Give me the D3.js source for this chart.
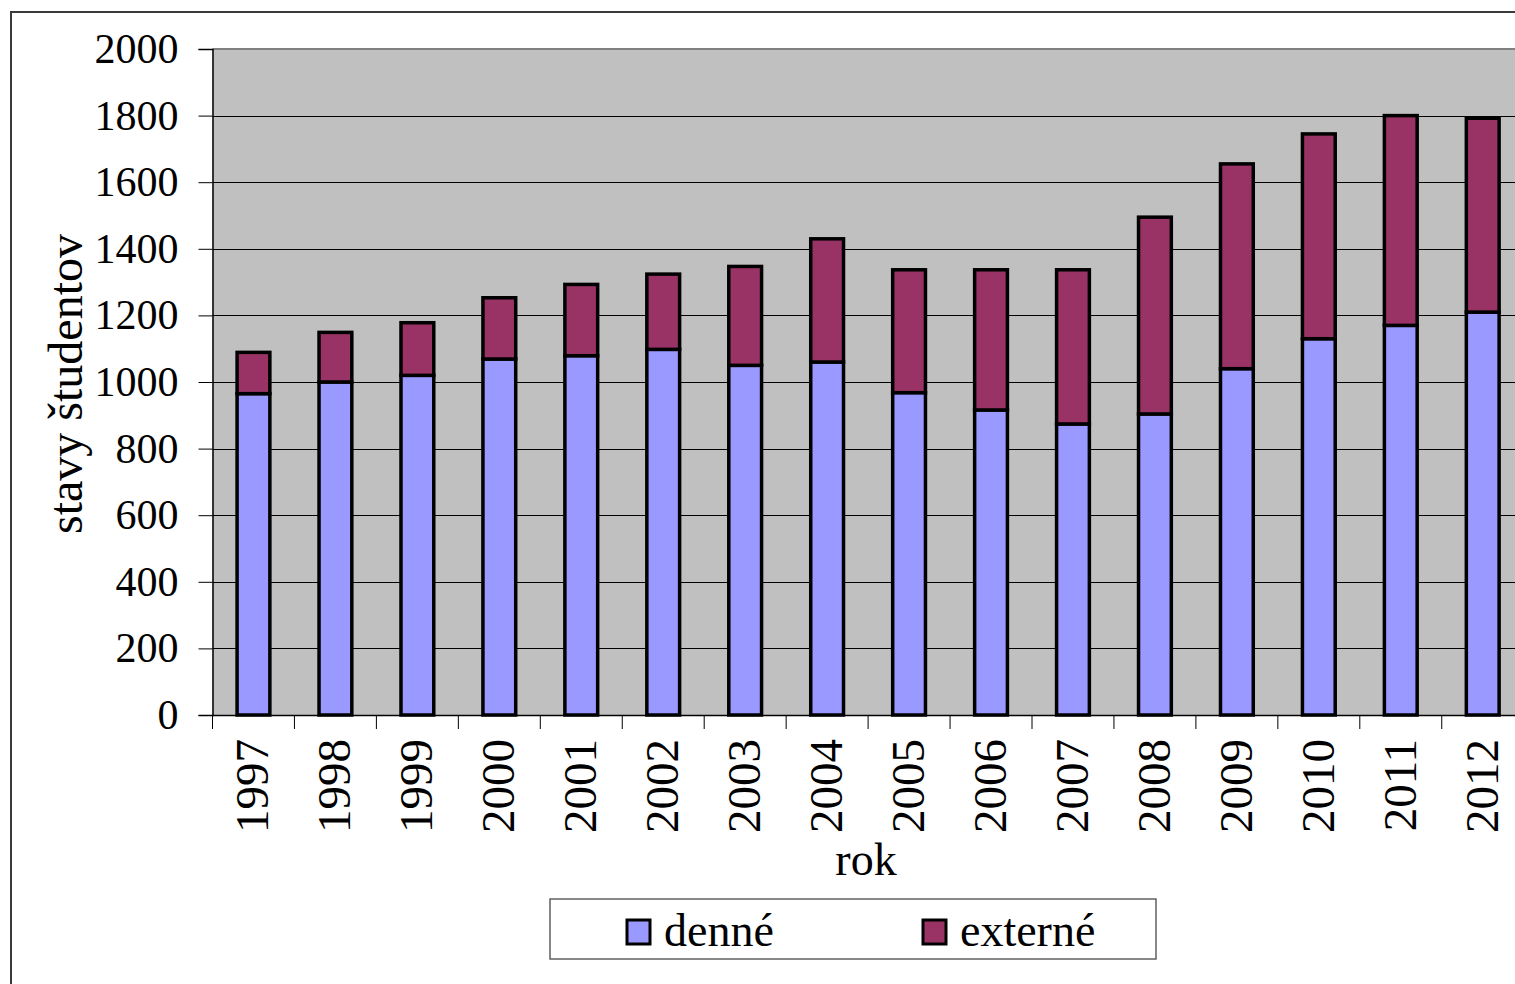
<!DOCTYPE html>
<html>
<head>
<meta charset="utf-8">
<script src="https://cdn.jsdelivr.net/npm/d3@7"></script>
<style>
  html, body { margin: 0; padding: 0; background: #fff; overflow: hidden; }
  svg { display: block; }
  text { font-family: "Liberation Serif", "Times New Roman", serif; fill: #000; }
</style>
</head>
<body>
<script>
const years = ["1997","1998","1999","2000","2001","2002","2003","2004","2005","2006","2007","2008","2009","2010","2011","2012"];
const denne = [965, 1000, 1020, 1069, 1079, 1098, 1050, 1060, 968, 916, 874, 904, 1040, 1130, 1170, 1210];
const externe = [124, 149, 158, 184, 214, 226, 297, 370, 369, 421, 463, 591, 615, 615, 630, 582];
const yTicks = [0, 200, 400, 600, 800, 1000, 1200, 1400, 1600, 1800, 2000];
const seriesNames = ["denné", "externé"];
const seriesColors = ["#9999FF", "#993366"];

(function () {
const W = 1515, H = 984;
const svg = d3.select("body").append("svg").attr("width", W).attr("height", H);

// outer chart border
svg.append("rect").attr("x", 11).attr("y", 12).attr("width", 1600).attr("height", 1100)
  .attr("fill", "#fff").attr("stroke", "#3a3a3a").attr("stroke-width", 2);

const pLeft = 212.5, pTop = 49, pBottom = 715;
const step = 81.95;
const pRight = pLeft + step * years.length;

const x = d3.scaleBand().domain(years).range([pLeft, pRight]).paddingInner(0.6).paddingOuter(0.3);
const y = d3.scaleLinear().domain([0, 2000]).range([pBottom, pTop]);

// plot background
svg.append("rect").attr("x", pLeft).attr("y", pTop).attr("width", pRight - pLeft).attr("height", pBottom - pTop)
  .attr("fill", "#C0C0C0");
// top border of plot (gray)
svg.append("line").attr("x1", pLeft).attr("x2", pRight).attr("y1", pTop).attr("y2", pTop)
  .attr("stroke", "#808080").attr("stroke-width", 2);

// gridlines
svg.append("g").selectAll("line").data(yTicks.filter(d => d > 0 && d < 2000)).join("line")
  .attr("x1", pLeft).attr("x2", pRight)
  .attr("y1", d => Math.round(y(d)) + 0.5).attr("y2", d => Math.round(y(d)) + 0.5)
  .attr("stroke", "#000").attr("stroke-width", 1);

// stacked data
const rows = years.map((yr, i) => ({ year: yr, "denné": denne[i], "externé": externe[i] }));
const stack = d3.stack().keys(seriesNames)(rows);

svg.append("g").selectAll("g").data(stack).join("g")
  .attr("fill", (d, i) => seriesColors[i])
  .selectAll("rect").data(d => d).join("rect")
  .attr("x", d => x(d.data.year))
  .attr("width", x.bandwidth())
  .attr("y", d => y(d[1]))
  .attr("height", d => y(d[0]) - y(d[1]))
  .attr("stroke", "#000").attr("stroke-width", 3.5);

// y axis
const yAxis = d3.axisLeft(y).tickValues(yTicks).tickSize(14).tickPadding(20).tickFormat(d3.format("d"));
const gy = svg.append("g").attr("transform", `translate(${pLeft},0)`).call(yAxis);
gy.select(".domain").attr("stroke", "#000").attr("stroke-width", 1.5);
gy.selectAll(".tick line").attr("stroke", "#000");
gy.selectAll(".tick text").style("font-family", "'Liberation Serif', serif").style("font-size", "42px").attr("fill", "#000");

// x axis
const xAxis = d3.axisBottom(x).tickSize(0).tickFormat(d => d);
const gx = svg.append("g").attr("transform", `translate(0,${pBottom})`).call(xAxis);
gx.select(".domain").attr("stroke", "#000").attr("stroke-width", 1.5);
gx.selectAll(".tick text")
  .style("font-family", "'Liberation Serif', serif").style("font-size", "47px").attr("fill", "#000")
  .attr("text-anchor", "end")
  .attr("transform", "translate(-1,24) rotate(-90)")
  .attr("x", 0).attr("y", 0).attr("dy", "0.34em");
// category separator ticks
const boundaries = d3.range(years.length + 1).map(i => pLeft + i * step);
gx.append("g").selectAll("line").data(boundaries).join("line")
  .attr("x1", d => d).attr("x2", d => d)
  .attr("y1", 0).attr("y2", 14).attr("stroke", "#000").attr("stroke-width", 1);

// axis titles
svg.append("text").attr("transform", `translate(82,${(pTop + pBottom) / 2 + 2}) rotate(-90)`)
  .attr("text-anchor", "middle").style("font-size", "48px")
  .text("stavy študentov");
svg.append("text").attr("x", 866).attr("y", 875).attr("text-anchor", "middle")
  .style("font-size", "46px").text("rok");

// legend
const lg = svg.append("g");
lg.append("rect").attr("x", 550).attr("y", 899).attr("width", 606).attr("height", 60)
  .attr("fill", "#fff").attr("stroke", "#606060").attr("stroke-width", 1.5);
const legendX = [627, 923];
seriesNames.forEach((name, i) => {
  lg.append("rect").attr("x", legendX[i]).attr("y", 920).attr("width", 23).attr("height", 24)
    .attr("fill", seriesColors[i]).attr("stroke", "#000").attr("stroke-width", 3);
  lg.append("text").attr("x", legendX[i] + 37).attr("y", 946).style("font-size", "46px").text(name);
});
})();
</script>
</body>
</html>
